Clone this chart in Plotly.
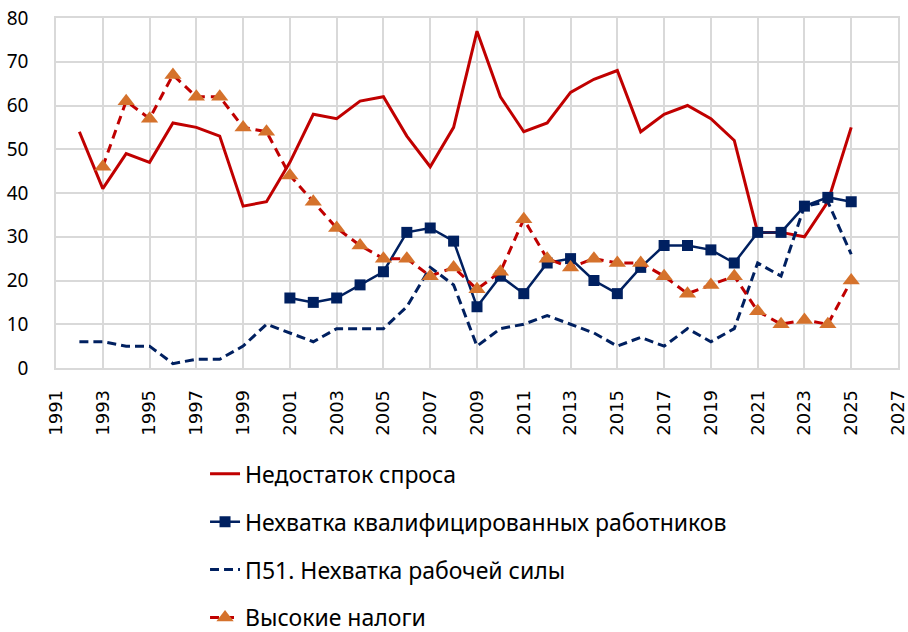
import plotly.graph_objects as go

years_demand = list(range(1992, 2026))
demand = [54, 41, 49, 47, 56, 55, 53, 37, 38, 47, 58, 57, 61, 62, 53, 46, 55, 77, 62, 54,
          56, 63, 66, 68, 54, 58, 60, 57, 52, 31, 31, 30, 38, 55]

years_skilled = list(range(2001, 2026))
skilled = [16, 15, 16, 19, 22, 31, 32, 29, 14, 21, 17, 24, 25, 20, 17, 23, 28, 28, 27, 24,
           31, 31, 37, 39, 38]

years_labor = list(range(1992, 2026))
labor = [6, 6, 5, 5, 1, 2, 2, 5, 10, 8, 6, 9, 9, 9, 14, 23, 19, 5, 9, 10,
         12, 10, 8, 5, 7, 5, 9, 6, 9, 24, 21, 37, 38, 26]

years_tax = list(range(1993, 2026))
tax = [46, 61, 57, 67, 62, 62, 55, 54, 44, 38, 32, 28, 25, 25, 21, 23, 18, 22, 34, 25,
       23, 25, 24, 24, 21, 17, 19, 21, 13, 10, 11, 10, 20]

names = ["Недостаток спроса", "Нехватка квалифицированных работников",
         "П51. Нехватка рабочей силы", "Высокие налоги"]

RED = "#C00000"
NAVY = "#002060"
ORANGE = "#D5722C"

fig = go.Figure()
fig.add_trace(go.Scatter(x=years_demand, y=demand, name=names[0], mode="lines",
                         line=dict(color=RED, width=3), legendgroup="a"))
fig.add_trace(go.Scatter(x=years_skilled, y=skilled, name=names[1], mode="lines+markers",
                         line=dict(color=NAVY, width=2.5),
                         marker=dict(symbol="square", size=11, color=NAVY), legendgroup="b"))
fig.add_trace(go.Scatter(x=years_labor, y=labor, name=names[2], mode="lines",
                         line=dict(color=NAVY, width=3, dash="9px,5px"), legendgroup="c"))
fig.add_trace(go.Scatter(x=years_tax, y=tax, name=names[3], mode="lines+markers",
                         line=dict(color=RED, width=3, dash="9px,6px"),
                         marker=dict(symbol="triangle-up", size=15, color=ORANGE), legendgroup="d"))

fig.update_layout(
    width=908, height=632,
    margin=dict(l=56, r=10, t=18, b=264, autoexpand=False),
    paper_bgcolor="white", plot_bgcolor="white",
    font=dict(family="Noto Sans", size=20, color="black"),
    showlegend=True,
    legend=dict(orientation="v", x=0.177, y=-0.241, xanchor="left", yanchor="top",
                traceorder="grouped", tracegroupgap=15, font=dict(size=23)),
)
fig.update_xaxes(range=[1991, 2027], dtick=2, tick0=1991, tickangle=-90,
                 showgrid=True, gridcolor="#D9D9D9", gridwidth=1.5,
                 showline=True, linecolor="#D9D9D9", linewidth=1.5, mirror=True,
                 tickfont=dict(family="DejaVu Sans", size=18), zeroline=False,
                 automargin=False, ticklabelstandoff=13, ticklabeloverflow="allow")
fig.update_yaxes(range=[0, 80], dtick=10, showgrid=True, gridcolor="#D9D9D9", gridwidth=1.5,
                 showline=True, linecolor="#D9D9D9", linewidth=1.5, mirror=True,
                 tickfont=dict(family="Noto Sans", size=19), zeroline=False,
                 automargin=False, ticklabelstandoff=22, ticklabeloverflow="allow")

fig.write_html("out.html", config={"displayModeBar": False},
               post_script="document.body.style.margin='0';")
